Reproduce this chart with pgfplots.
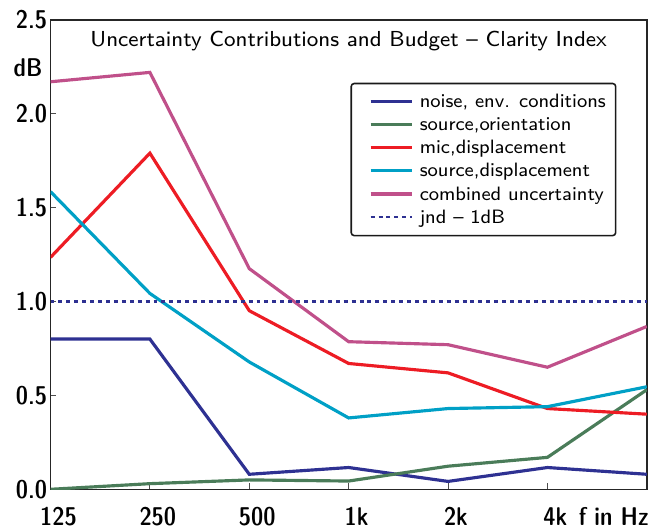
\documentclass[border=0pt]{standalone}
\usepackage{fontspec}
\usepackage{pgfplots}
\pgfplotsset{compat=1.18}
\newfontfamily\dcfont[Ligatures=TeX]{lmsansdemicond10-regular.otf}
\newfontfamily\sseight[Ligatures=TeX]{lmsans8-regular.otf}
\definecolor{cnoise}{RGB}{46,49,146}
\definecolor{corient}{RGB}{74,124,89}
\definecolor{cmic}{RGB}{237,28,36}
\definecolor{csrc}{RGB}{0,160,198}
\definecolor{ccomb}{RGB}{192,80,138}
\begin{document}
\begin{tikzpicture}
\begin{axis}[
  scale only axis, width=602bp, height=474bp,
  clip mode=individual,
  xmin=0, xmax=6, ymin=0, ymax=2.5,
  xtick={0,1,2,3,4,5,6}, xticklabels={125,250,500,1k,2k,4k,},
  ytick={0,0.5,1,1.5,2,2.5},
  yticklabel style={/pgf/number format/fixed, /pgf/number format/fixed zerofill, /pgf/number format/precision=1},
  /pgf/number format/assume math mode=true,
  tick pos=left, tick align=inside, major tick length=6bp,
  tick style={line width=1pt, black!70},
  axis line style={line width=1.6pt, black!85},
  ticklabel style={font=\fontsize{26}{30}\dcfont},
  xticklabel style={anchor=base, yshift=-37bp, xshift=8bp},
  title={Uncertainty Contributions and Budget – Clarity Index},
  title style={at={(0.5,0.930)}, anchor=base, font=\fontsize{22}{26}\sseight},
  legend style={at={(0.503,0.866)}, anchor=north west, rounded corners=3pt,
    font=\fontsize{19.6}{22}\sseight, draw=black!90, line width=1.6pt, inner xsep=8bp, inner ysep=9bp, row sep=4.4bp},
  legend cell align=left,
  legend image code/.code={\path (0bp,0bp) (56bp,0bp); \draw[#1] (10bp,0bp) -- (52bp,0bp);},
]
\addplot[cnoise, line width=3.2pt] coordinates {(0,0.80) (1,0.80) (2,0.08) (3,0.116) (4,0.042) (5,0.116) (6,0.08)};
\addlegendentry{noise, env. conditions}
\addplot[corient, line width=3.2pt] coordinates {(0,0.0) (1,0.03) (2,0.05) (3,0.044) (4,0.123) (5,0.17) (6,0.53)};
\addlegendentry{source,orientation}
\addplot[cmic, line width=3.2pt] coordinates {(0,1.235) (1,1.79) (2,0.951) (3,0.67) (4,0.62) (5,0.43) (6,0.40)};
\addlegendentry{mic,displacement}
\addplot[csrc, line width=3.2pt] coordinates {(0,1.585) (1,1.043) (2,0.678) (3,0.38) (4,0.43) (5,0.44) (6,0.546)};
\addlegendentry{source,displacement}
\addplot[ccomb, line width=3.2pt] coordinates {(0,2.17) (1,2.22) (2,1.175) (3,0.786) (4,0.77) (5,0.65) (6,0.867)};
\addlegendentry{combined uncertainty}
\addplot[cnoise, line width=2.2pt, dash pattern=on 4bp off 4bp] coordinates {(0,1) (6,1)};
\addlegendentry{jnd – 1dB}
\node[anchor=base east, inner sep=0pt, font=\fontsize{26}{30}\dcfont] at (rel axis cs:0,0.88) [xshift=-8bp] {dB};
\node[anchor=base east, inner sep=0pt, font=\fontsize{26}{30}\dcfont] at (rel axis cs:1,0) [yshift=-37bp, xshift=2bp] {f in Hz};
\coordinate (O) at (rel axis cs:0,0);
\end{axis}
\path (O) ++(-51bp,-41bp) rectangle ++(658bp,535bp);
\end{tikzpicture}
\end{document}
